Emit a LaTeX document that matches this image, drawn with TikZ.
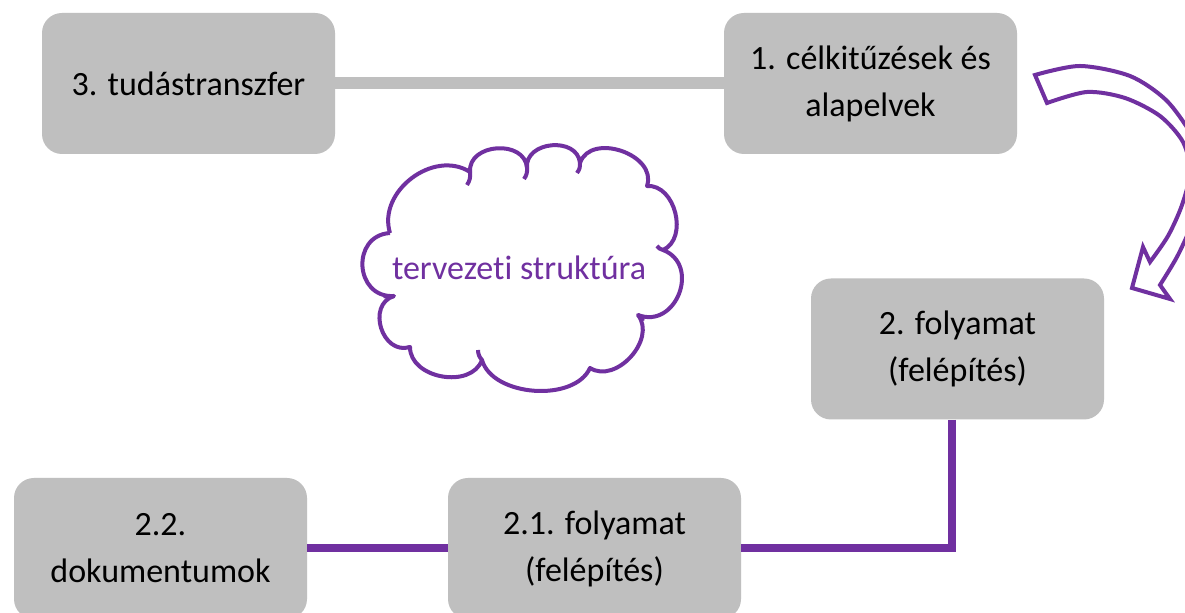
\documentclass[tikz,border=0pt]{standalone}
\usepackage{fontspec}
\setmainfont{Carlito}[Ligatures=NoCommon]
\definecolor{boxgray}{HTML}{BFBFBF}
\definecolor{lila}{HTML}{7030A0}
\tikzstyle{box}=[rectangle, rounded corners=10pt, fill=boxgray, minimum width=146.5pt, minimum height=70.5pt, inner sep=0pt, align=center, font=\fontsize{17}{23.5}\selectfont]
\tikzstyle{grayline}=[draw=boxgray, line width=6pt]
\tikzstyle{lilaline}=[draw=lila, line width=4pt]
\tikzstyle{felho}=[draw=lila, line width=2pt, fill=white, line join=round]
\tikzstyle{felhotext}=[text=lila, font=\fontsize{17}{23.5}\selectfont]

\begin{document}
\begin{tikzpicture}[x=0.5pt, y=-0.5pt]
	\clip (0,0) rectangle (1185,613);
	\fill[white] (0,0) rectangle (1185,613);

	\node[box](tudas) at (188.5,83.5){3. tudástranszfer};
	\node[box](celok) at (870.5,83.5){1. célkitűzések és\\alapelvek};
	\node[box](folyamat) at (957.5,349){2. folyamat\\(felépítés)};
	\node[box](folyamat21) at (594.5,548.5){2.1. folyamat\\(felépítés)};
	\node[box](dok) at (160.5,548.5){2.2.\\dokumentumok};

	\draw[grayline] (tudas) -- (celok);
	\draw[lilaline] ([xshift=-2.75pt]folyamat.south) |- (folyamat21.east);
	\draw[lilaline] (folyamat21) -- (dok);

	% cloud
	\coordinate (c1) at (390,233);
	\coordinate (c2) at (470,172);
	\coordinate (c3) at (527,168);
	\coordinate (c4) at (580,163);
	\coordinate (c5) at (647,186);
	\coordinate (c6) at (663,250);
	\coordinate (c7) at (638,315);
	\coordinate (c8) at (590,368);
	\coordinate (c9) at (482,360);
	\coordinate (c10) at (410,347);
	\coordinate (c11) at (394,296);
	\draw[felho] (c1) to[bend left=70, looseness=1.1] (c2)
		to[bend left=90, looseness=1.3] (c3)
		to[bend left=90, looseness=1.3] (c4)
		to[bend left=90, looseness=1.2] (c5)
		to[bend left=80, looseness=1.1] (c6)
		to[bend left=90, looseness=1.5] (c7)
		to[bend left=80, looseness=1.1] (c8)
		to[bend left=70, looseness=0.9] (c9)
		to[bend left=80, looseness=1.1] (c10)
		to[bend left=90, looseness=1.4] (c11)
		to[bend left=90, looseness=1.6] (c1);
	\draw[felho] (c2) to[bend left=20] ++(-3,13);
	\draw[felho] (c3) to[bend left=20] ++(-3,11);
	\draw[felho] (c4) to[bend left=20] ++(-3,10);
	\draw[felho] (c6) to[bend left=20] ++(-6,-4);
	\draw[felho] (c7) to[bend left=20] ++(5,6);
	\draw[felho] (c9) to[bend left=20] ++(-4,-10);
	\draw[felho] (c11) to[bend left=20] ++(-10,0);
	\node[felhotext](struktura) at (519,268){tervezeti struktúra};

	% curved arrow from 1. to 2.
	\filldraw[fill=white, draw=lila, line width=2pt]
		(1035,75) -- plot[smooth] coordinates {(1035,75) (1080,66) (1130,76) (1166,100) (1192,135) (1212,172) (1196,215) (1178,255) (1160,285)}
		-- (1170,299) -- (1132,288) -- (1143,247)
		-- plot[smooth] coordinates {(1150,262) (1168,236) (1182,205) (1190,172) (1183,142) (1160,116) (1125,98) (1087,92) (1047,103)}
		-- cycle;
\end{tikzpicture}
\end{document}
